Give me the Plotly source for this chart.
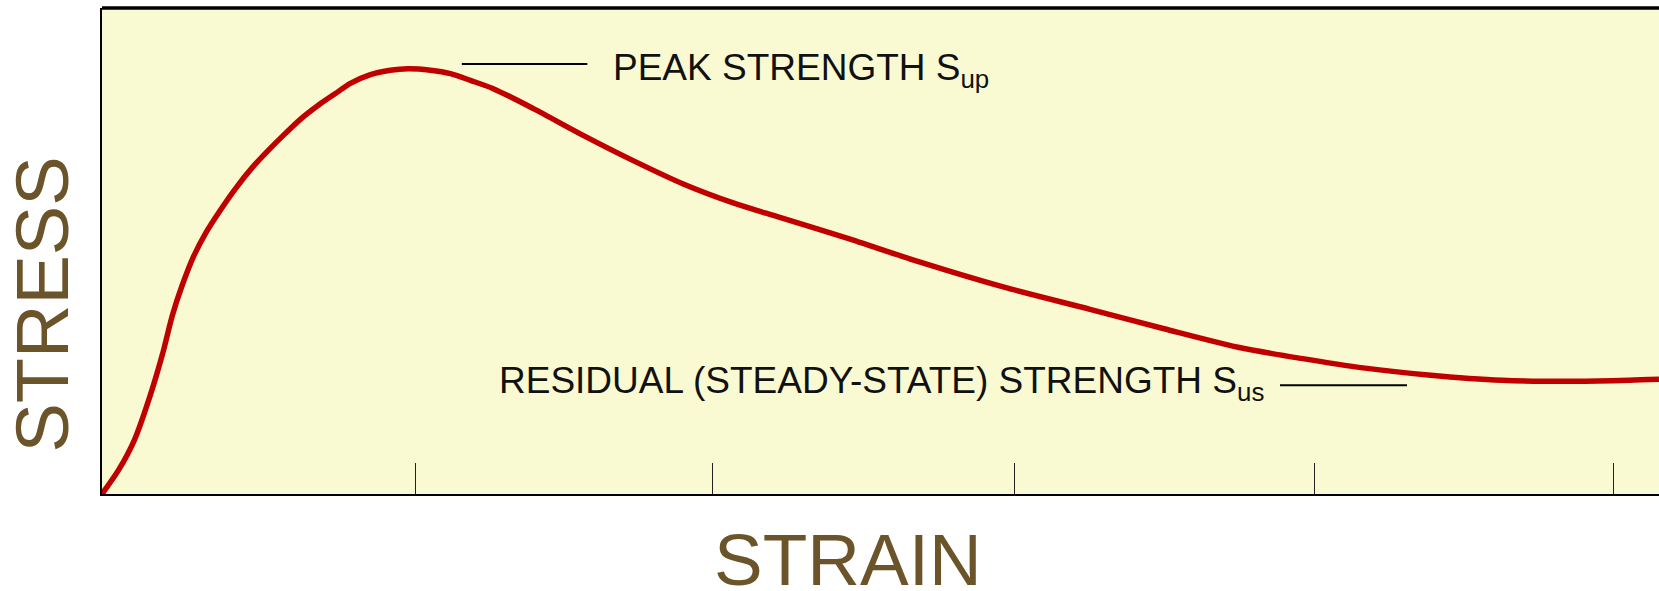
import plotly.graph_objects as go

# Stress-strain curve (strain in tick units, stress normalised to plot height)
strain = [0.000, 0.055, 0.108, 0.161, 0.202, 0.235, 0.268, 0.305, 0.348, 0.395,
          0.445, 0.502, 0.555, 0.612, 0.662, 0.722, 0.779, 0.829, 0.896, 0.962,
          1.022, 1.096, 1.163, 1.230, 1.306, 1.440, 1.606, 1.773, 1.940, 2.107,
          2.257, 2.484, 2.731, 3.014, 3.298, 3.545, 3.792, 4.002, 4.216, 4.426,
          4.673, 4.920, 5.097, 5.197]
stress = [0.000, 0.049, 0.111, 0.203, 0.288, 0.368, 0.430, 0.488, 0.539, 0.584,
          0.628, 0.672, 0.707, 0.742, 0.771, 0.800, 0.824, 0.845, 0.863, 0.872,
          0.875, 0.872, 0.865, 0.851, 0.834, 0.793, 0.738, 0.686, 0.638, 0.599,
          0.570, 0.527, 0.477, 0.425, 0.380, 0.340, 0.302, 0.279, 0.259, 0.245,
          0.234, 0.232, 0.234, 0.236]
tick_positions = [1.045, 2.037, 3.047, 4.046, 5.045]

x_title = "STRAIN"
y_title = "STRESS"
peak_label = "PEAK STRENGTH S<sub>up</sub>"
resid_label = "RESIDUAL (STEADY-STATE) STRENGTH S<sub>us</sub>"

FONT = "Liberation Sans, Arial, sans-serif"
BROWN = "#6b5429"

fig = go.Figure()
fig.add_trace(go.Scatter(
    x=strain, y=stress, mode="lines",
    line=dict(color="#c00000", width=5.5, shape="spline", smoothing=0.8),
    hoverinfo="skip", showlegend=False,
))

fig.update_layout(
    width=1659, height=591,
    margin=dict(l=102, r=0, t=8, b=97),
    paper_bgcolor="white",
    plot_bgcolor="#fafad2",
    showlegend=False,
    xaxis=dict(range=[0, 5.197], showgrid=False, zeroline=False,
               showline=True, linecolor="black", linewidth=1.5,
               ticks="inside", ticklen=31, tickwidth=1.3, tickcolor="#222",
               tickvals=tick_positions, showticklabels=False),
    yaxis=dict(range=[0, 1], showgrid=False, zeroline=False,
               showline=True, linecolor="black", linewidth=1.5,
               ticks="", showticklabels=False),
)

# top frame line
fig.add_shape(type="line", xref="paper", yref="paper", x0=0, x1=1, y0=1, y1=1,
              line=dict(color="black", width=3.5))

# leader lines
fig.add_shape(type="line", xref="x", yref="y", x0=1.201, x1=1.620, y0=0.885, y1=0.885,
              line=dict(color="black", width=2))
fig.add_shape(type="line", xref="x", yref="y", x0=3.932, x1=4.356, y0=0.224, y1=0.224,
              line=dict(color="black", width=2))

fig.add_annotation(x=1.700, y=0.873, xref="x", yref="y", text=peak_label,
                   showarrow=False, xanchor="left", yanchor="middle",
                   font=dict(family=FONT, size=37, color="#111"))
fig.add_annotation(x=1.319, y=0.228, xref="x", yref="y", text=resid_label,
                   showarrow=False, xanchor="left", yanchor="middle",
                   font=dict(family=FONT, size=37, color="#111"))

fig.add_annotation(x=0.479, y=-0.135, xref="paper", yref="paper",
                   text=x_title, showarrow=False, xanchor="center", yanchor="middle",
                   font=dict(family=FONT, size=73, color=BROWN))
fig.add_annotation(x=-0.0385, y=0.39, xref="paper", yref="paper",
                   text=y_title, textangle=-90, showarrow=False,
                   xanchor="center", yanchor="middle",
                   font=dict(family=FONT, size=74, color=BROWN))

fig.write_html("out.html",
               config={"displayModeBar": False},
               post_script="document.body.style.margin='0';document.body.style.overflow='hidden';")
